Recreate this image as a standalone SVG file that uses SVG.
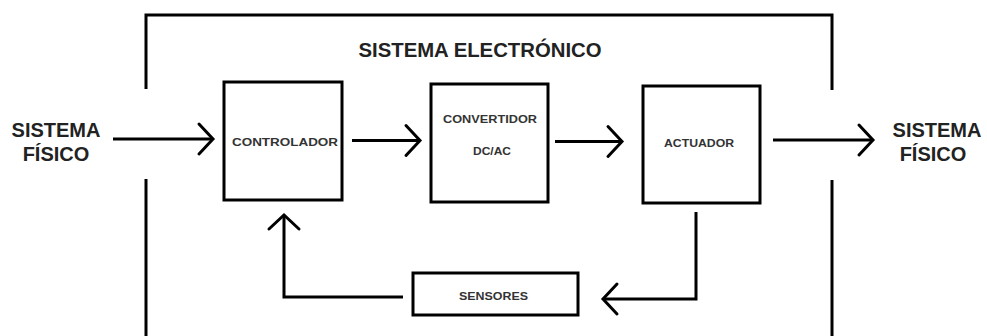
<svg xmlns="http://www.w3.org/2000/svg" width="987" height="336" viewBox="0 0 987 336">
<defs>
<style>
.box{fill:#fff;stroke:#000;stroke-width:3}
.ln{fill:none;stroke:#000;stroke-width:3}
.big{font-family:"Liberation Sans",Arial,sans-serif;font-weight:bold;font-size:20px;fill:#222;text-anchor:middle}
.sm{font-family:"Liberation Sans",Arial,sans-serif;font-weight:bold;font-size:10px;fill:#333;text-anchor:middle}
</style>
<marker id="chev" markerUnits="userSpaceOnUse" viewBox="-17 -18 19 36" markerWidth="19" markerHeight="36" refX="0" refY="0" orient="auto" overflow="visible">
<path d="M-14,-15 L0,0 L-14,15" fill="none" stroke="#000" stroke-width="3" stroke-linecap="round" stroke-linejoin="miter"/>
</marker>
</defs>
<g id="frame">
<path class="ln" d="M146,89 V15 H832 V90"/>
<path class="ln" d="M146,179 V336"/>
<path class="ln" d="M832,180 V336"/>
<text class="big" x="480" y="57" textLength="243" lengthAdjust="spacingAndGlyphs">SISTEMA ELECTRÓNICO</text>
</g>
<g id="input">
<text class="big" x="56" y="137">SISTEMA</text>
<text class="big" x="56" y="161">FÍSICO</text>
</g>
<g id="output">
<text class="big" x="937" y="137">SISTEMA</text>
<text class="big" x="933" y="161">FÍSICO</text>
</g>
<g id="controlador">
<rect class="box" x="224" y="82" width="118" height="118"/>
<text class="sm" x="285" y="145.5" textLength="106" lengthAdjust="spacingAndGlyphs">CONTROLADOR</text>
</g>
<g id="convertidor">
<rect class="box" x="431" y="84" width="117" height="118"/>
<text class="sm" x="490" y="123" textLength="94" lengthAdjust="spacingAndGlyphs">CONVERTIDOR</text>
<text class="sm" x="492" y="154.5" textLength="38" lengthAdjust="spacingAndGlyphs">DC/AC</text>
</g>
<g id="actuador">
<rect class="box" x="643" y="86" width="117" height="117"/>
<text class="sm" x="699" y="146.5" textLength="70" lengthAdjust="spacingAndGlyphs">ACTUADOR</text>
</g>
<g id="sensores">
<rect class="box" x="413" y="273" width="165" height="42"/>
<text class="sm" x="493.5" y="299.5" textLength="69" lengthAdjust="spacingAndGlyphs">SENSORES</text>
</g>
<g id="connectors">
<path class="ln" d="M113,139 H213" marker-end="url(#chev)"/>
<path class="ln" d="M352,140.5 H420" marker-end="url(#chev)"/>
<path class="ln" d="M555,141.5 H622" marker-end="url(#chev)"/>
<path class="ln" d="M773,140 H873" marker-end="url(#chev)"/>
<path class="ln" d="M696,212 V299 H603" marker-end="url(#chev)"/>
<path class="ln" d="M403,297 H284 V215" marker-end="url(#chev)"/>
</g>
</svg>
